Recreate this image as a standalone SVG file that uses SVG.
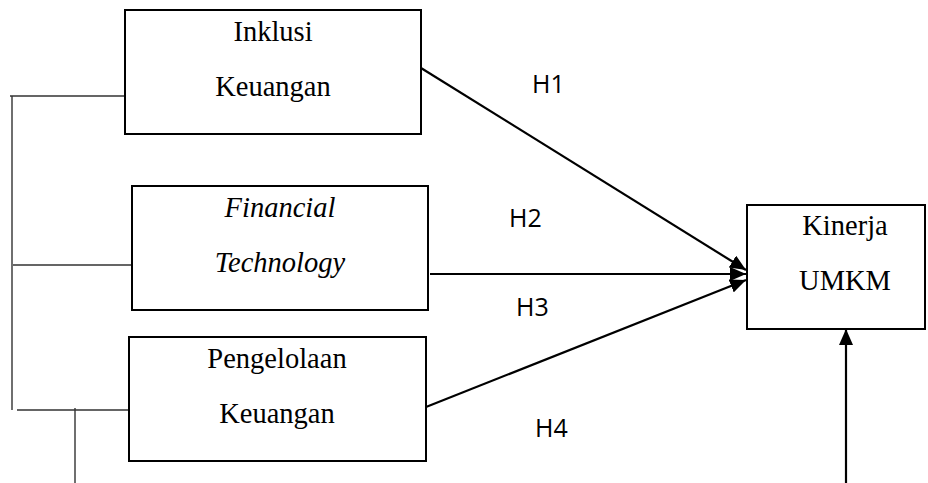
<svg xmlns="http://www.w3.org/2000/svg" width="928" height="483" viewBox="0 0 928 483">
<style>
.box{fill:#fff;stroke:#000;stroke-width:2}
.t{font-family:"Liberation Serif","Times New Roman",serif;font-size:28.5px;fill:#000;text-anchor:middle}
.ti{font-style:italic}
.h{font-family:"Open Sans","Liberation Sans",Arial,sans-serif;font-size:25px;fill:#000}
.thin{stroke:#333;stroke-width:1.4;fill:none}
.arr{stroke:#000;stroke-width:2.2;fill:none;marker-end:url(#ah)}
</style>
<defs>
<marker id="ah" markerUnits="userSpaceOnUse" markerWidth="16" markerHeight="14" refX="16" refY="7" orient="auto">
<path d="M0,0 L16,7 L0,14 Z" fill="#000"/>
</marker>
</defs>
<g id="connectors">
<path class="thin" d="M10,96 H125 M12,96 V410 M13,265 H131 M17,410 H129 M75,408 V483"/>
<line class="arr" x1="421" y1="68" x2="746" y2="270"/>
<line class="arr" x1="430" y1="274" x2="746" y2="274"/>
<line class="arr" x1="426" y1="407" x2="746" y2="280"/>
<line class="arr" x1="846" y1="483" x2="846" y2="329"/>
</g>
<g id="labels">
<text class="h" x="532" y="93">H1</text>
<text class="h" x="509" y="227">H2</text>
<text class="h" x="516" y="316">H3</text>
<text class="h" x="535" y="437">H4</text>
</g>
<g id="inklusi">
<rect class="box" x="125" y="10" width="296" height="124"/>
<text class="t" x="273" y="41">Inklusi</text>
<text class="t" x="273" y="96">Keuangan</text>
</g>
<g id="fintech">
<rect class="box" x="132" y="186" width="296" height="124"/>
<text class="t ti" x="280" y="217">Financial</text>
<text class="t ti" x="280" y="272">Technology</text>
</g>
<g id="pengelolaan">
<rect class="box" x="129" y="337" width="297" height="124"/>
<text class="t" x="277" y="368">Pengelolaan</text>
<text class="t" x="277" y="423">Keuangan</text>
</g>
<g id="kinerja">
<rect class="box" x="747" y="205" width="178" height="124"/>
<text class="t" x="845" y="235">Kinerja</text>
<text class="t" x="845" y="290">UMKM</text>
</g>
</svg>
